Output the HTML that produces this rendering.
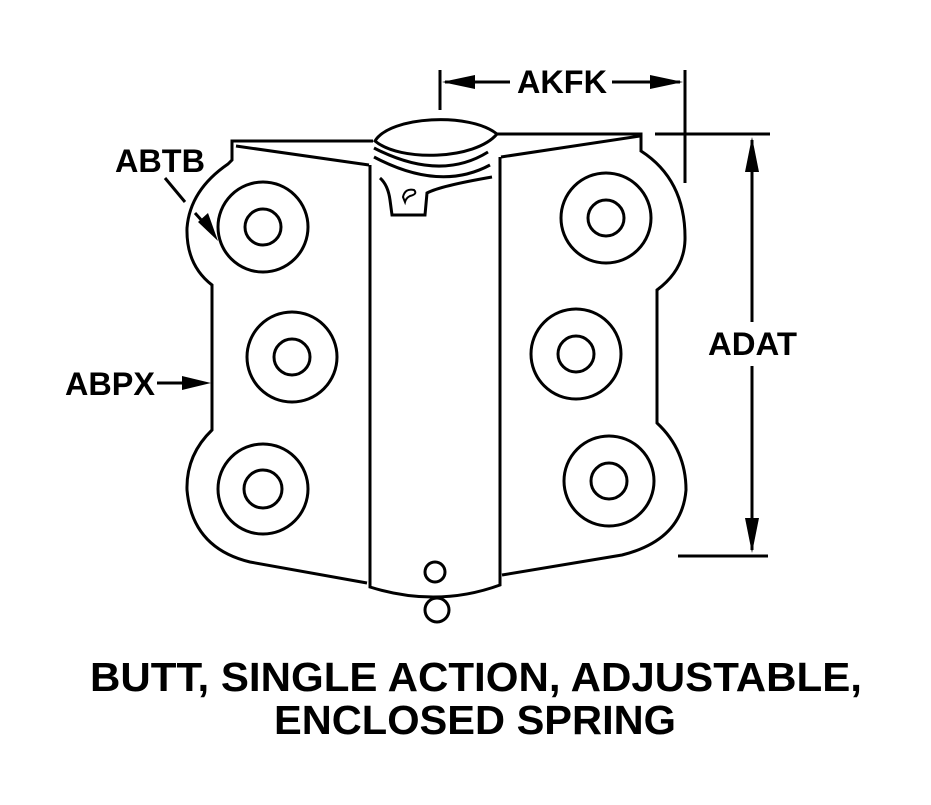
<!DOCTYPE html>
<html><head><style>
body{margin:0;background:#fff;width:931px;height:805px;overflow:hidden}
svg{display:block}
text{font-family:"Liberation Sans",sans-serif;font-weight:bold;fill:#000}
</style></head><body>
<svg width="931" height="805" viewBox="0 0 931 805" xmlns="http://www.w3.org/2000/svg">
<g fill="none" stroke="#000" stroke-width="3">
<path d="M373,141 L232,141 L232,160 L228,164 Q190,190 187,228 Q186,265 212,285 L212,430 Q186,455 187,490 Q192,548 250,562 L367,583"/>
<path d="M236,146 L369,165"/>
<path d="M370,165 L370,587 Q437,608 500,585 L500,157"/>
<path d="M497,134 L641,134 L641,151 Q686,180 685,240 Q684,270 657,290 L657,423 Q686,450 686,490 Q682,540 622,555 L502,575"/>
<path d="M501,157 L640,136"/>
<path d="M375,141 C390,116 470,112 497,134 C475,160 400,162 375,141 Z"/>
<path d="M374,148 Q440,182 488,152"/>
<path d="M374,157 Q440,192 490,165"/>
<path d="M380,178 Q388,185 390,200 L392,215 L425,215 L427,193 Q440,186 492,177"/>
<path d="M403,197 Q405,188 414,190 Q418,194 410,196 Q406,198 405,202 Z" stroke-width="2"/>
<circle cx="263" cy="227" r="45"/><circle cx="263" cy="227" r="18"/>
<circle cx="292" cy="357" r="45"/><circle cx="292" cy="357" r="18"/>
<circle cx="263" cy="489" r="45"/><circle cx="263" cy="489" r="19"/>
<circle cx="606" cy="218" r="45"/><circle cx="606" cy="218" r="18"/>
<circle cx="576" cy="354" r="45"/><circle cx="576" cy="354" r="18"/>
<circle cx="609" cy="481" r="45"/><circle cx="609" cy="481" r="18"/>
<circle cx="435" cy="572" r="10"/><circle cx="437" cy="610" r="12"/>
<path d="M440,70 L440,110 M685,70 L685,183 M445,82 L510,82 M612,82 L680,82"/>
<path d="M655,134 L770,134 M678,556 L768,556 M752,140 L752,322 M752,366 L752,550"/>
<path d="M165,178 L185,202 M195,213 L212,232 M157,383 L200,383"/>
</g>
<g fill="#000">
<polygon points="442,82 475,75 475,89"/>
<polygon points="683,82 650,75 650,89"/>
<polygon points="752,137 745,172 759,172"/>
<polygon points="752,553 745,518 759,518"/>
<polygon points="218,241 198,222 208,213"/>
<polygon points="211,383 182,376 182,390"/>
</g>
<text x="517" y="93" font-size="32" textLength="90" lengthAdjust="spacingAndGlyphs">AKFK</text>
<text x="708" y="355" font-size="32" textLength="89" lengthAdjust="spacingAndGlyphs">ADAT</text>
<text x="115" y="172" font-size="32" textLength="90" lengthAdjust="spacingAndGlyphs">ABTB</text>
<text x="65" y="395" font-size="32" textLength="90" lengthAdjust="spacingAndGlyphs">ABPX</text>
<text x="90" y="691" font-size="41" textLength="772" lengthAdjust="spacingAndGlyphs">BUTT, SINGLE ACTION, ADJUSTABLE,</text>
<text x="274" y="734" font-size="41" textLength="402" lengthAdjust="spacingAndGlyphs">ENCLOSED SPRING</text>
</svg>
</body></html>
